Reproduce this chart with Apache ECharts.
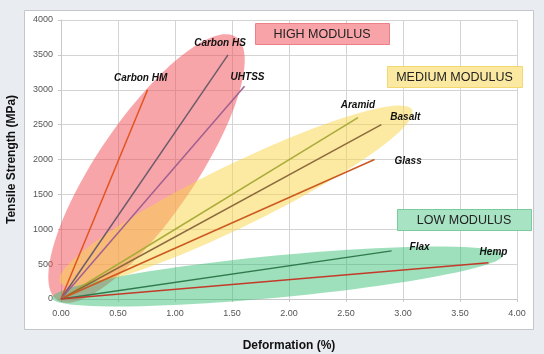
<!DOCTYPE html>
<html>
<head>
<meta charset="utf-8">
<script src="https://cdn.jsdelivr.net/npm/echarts@6/dist/echarts.min.js"></script>
<style>html,body{margin:0;padding:0;background:#e9ecf0;}#c{width:544px;height:354px;}</style>
</head>
<body>
<div id="c"></div>
<script>
// Fibre data: end point of each stress-strain line (deformation %, tensile strength MPa)
const fibreNames = ['Carbon HM', 'Carbon HS', 'UHTSS', 'Aramid', 'Basalt', 'Glass', 'Flax', 'Hemp'];
const fibreDeformation = [0.76, 1.465, 1.61, 2.605, 2.81, 2.75, 2.9, 3.75];
const fibreStrength = [3000, 3500, 3050, 2600, 2500, 2000, 690, 520];
// Modulus groups: major-axis end points (data coordinates) of each shaded band
const groupNames = ['HIGH MODULUS', 'MEDIUM MODULUS', 'LOW MODULUS'];
const groupStart = [[-0.035, -14], [-0.01, 244], [-0.079, 14]];
const groupEnd = [[1.535, 3756], [3.08, 2710], [3.877, 631]];
// Axis ticks
const xTicks = [0, 0.5, 1, 1.5, 2, 2.5, 3, 3.5, 4];
const yTicks = [0, 500, 1000, 1500, 2000, 2500, 3000, 3500, 4000];

const lineColors = ['#e2541d', '#6d5c6b', '#a0608f', '#a9ab3a', '#8c6a3d', '#cc5a20', '#2f7a4c', '#c43a2a'];
const labelStyles = [
  {position: 'top', offset: [-7, -2]},
  {position: 'top', offset: [-8, -2]},
  {position: 'top', offset: [3, 1]},
  {position: 'top', offset: [0, -2]},
  {position: 'right', offset: [4, -7]},
  {position: 'right', offset: [15, 2]},
  {position: 'right', offset: [13, -4]},
  {position: 'top', offset: [5, 0]}
];
const bandFill = ['rgba(242,82,92,0.52)', 'rgba(250,212,70,0.5)', 'rgba(55,190,115,0.48)'];
const bandHalfWidth = [49, 31, 21];

const chart = echarts.init(document.getElementById('c'));

const bandSeries = {
  type: 'custom',
  z: 1,
  silent: true,
  data: groupNames.map((n, i) => [groupStart[i][0], groupStart[i][1], groupEnd[i][0], groupEnd[i][1], i]),
  renderItem: function (params, api) {
    const p1 = api.coord([api.value(0), api.value(1)]);
    const p2 = api.coord([api.value(2), api.value(3)]);
    const idx = api.value(4);
    const cx = (p1[0] + p2[0]) / 2, cy = (p1[1] + p2[1]) / 2;
    const dx = p2[0] - p1[0], dy = p2[1] - p1[1];
    const a = Math.sqrt(dx * dx + dy * dy) / 2;
    const b = bandHalfWidth[idx];
    const ang = Math.atan2(dy, dx);
    const pts = [];
    for (let k = 0; k < 96; k++) {
      const t = k / 96 * Math.PI * 2;
      const ex = a * Math.cos(t), ey = b * Math.sin(t);
      pts.push([cx + ex * Math.cos(ang) - ey * Math.sin(ang), cy + ex * Math.sin(ang) + ey * Math.cos(ang)]);
    }
    return {type: 'polygon', shape: {points: pts}, style: {fill: bandFill[idx]}};
  }
};

const lineSeries = fibreNames.map((name, i) => ({
  type: 'line',
  name: name,
  z: 3,
  symbol: 'circle',
  symbolSize: 0,
  showSymbol: true,
  silent: true,
  lineStyle: {color: lineColors[i], width: 1.5},
  itemStyle: {color: lineColors[i]},
  data: [
    [0, 0],
    {
      value: [fibreDeformation[i], fibreStrength[i]],
      label: {
        show: true,
        position: labelStyles[i].position,
        offset: labelStyles[i].offset,
        formatter: name,
        fontFamily: 'Liberation Sans, Arial, sans-serif',
        fontSize: 10,
        fontWeight: 'bold',
        fontStyle: 'italic',
        color: '#111'
      }
    }
  ]
}));

const boxDefs = [
  {x: 255, y: 23, w: 134, h: 21, fill: '#f8a3a8', stroke: '#ec8088'},
  {x: 387, y: 66, w: 135, h: 21, fill: '#fbe9a2', stroke: '#f3d870'},
  {x: 397, y: 209, w: 134, h: 21, fill: '#a8e3c3', stroke: '#78cc9c'}
];

const graphics = [
  {type: 'rect', left: 24, top: 10, z: -10, shape: {width: 509, height: 319},
    style: {fill: '#ffffff', stroke: '#c4c6ca', lineWidth: 1}}
];
boxDefs.forEach((bx, i) => {
  graphics.push({type: 'rect', left: bx.x, top: bx.y, z: 10, shape: {width: bx.w, height: bx.h},
    style: {fill: bx.fill, stroke: bx.stroke, lineWidth: 1}});
  graphics.push({type: 'text', x: bx.x + bx.w / 2, y: bx.y + bx.h / 2 + 1, z: 11,
    style: {text: groupNames[i], fill: '#222', fontSize: 12.5, fontFamily: 'Liberation Sans, Arial, sans-serif',
      align: 'center', verticalAlign: 'middle'}});
});

chart.setOption({
  backgroundColor: '#e9ecf0',
  animation: false,
  grid: {left: 61, right: 27, top: 20, bottom: 55, containLabel: false, outerBoundsMode: 'none'},
  graphic: graphics,
  xAxis: {
    type: 'value', min: 0, max: 4, interval: 0.5,
    name: 'Deformation (%)', nameLocation: 'middle', nameGap: 41,
    nameTextStyle: {fontSize: 12, fontWeight: 'bold', color: '#111', fontFamily: 'Liberation Sans, Arial, sans-serif'},
    axisLine: {show: true, lineStyle: {color: '#c8c8c8'}},
    axisTick: {show: true, length: 3, lineStyle: {color: '#c8c8c8'}},
    axisLabel: {fontSize: 9, color: '#555', margin: 10, formatter: v => v.toFixed(2),
      fontFamily: 'Liberation Sans, Arial, sans-serif'},
    splitLine: {show: true, lineStyle: {color: '#d4d4d4'}}
  },
  yAxis: {
    type: 'value', min: 0, max: 4000, interval: 500,
    name: 'Tensile Strength (MPa)', nameLocation: 'middle', nameGap: 43,
    nameTextStyle: {fontSize: 12, fontWeight: 'bold', color: '#111', fontFamily: 'Liberation Sans, Arial, sans-serif'},
    axisLine: {show: true, lineStyle: {color: '#c8c8c8'}},
    axisTick: {show: true, length: 3, lineStyle: {color: '#c8c8c8'}},
    axisLabel: {fontSize: 9, color: '#555', margin: 8, formatter: v => String(v),
      fontFamily: 'Liberation Sans, Arial, sans-serif'},
    splitLine: {show: true, lineStyle: {color: '#d4d4d4'}}
  },
  series: [bandSeries].concat(lineSeries)
});
</script>
</body>
</html>
